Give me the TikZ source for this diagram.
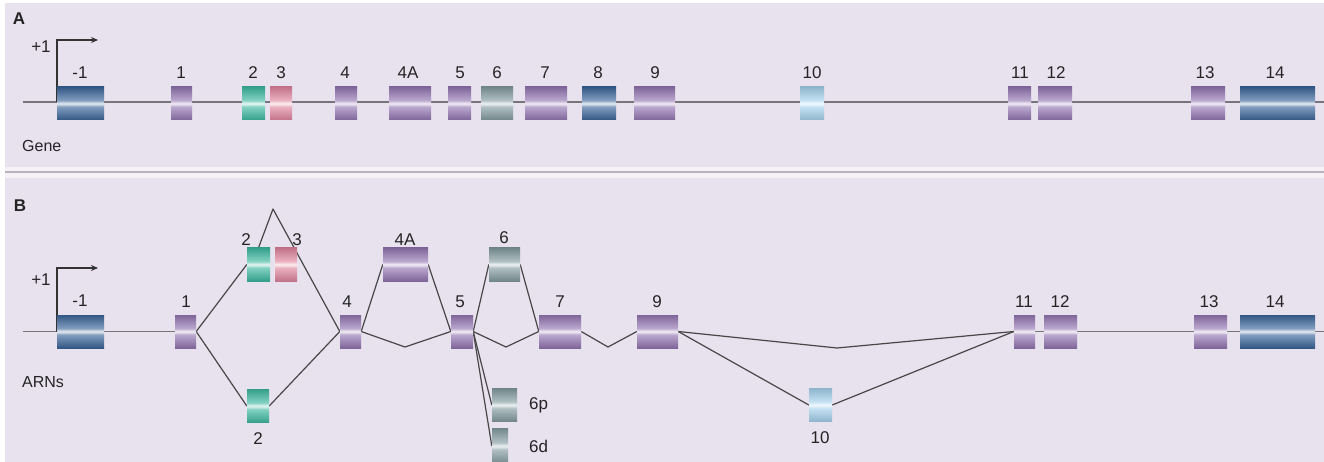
\documentclass[tikz,border=0pt]{standalone}
\usepackage{fontspec}
\setmainfont{Liberation Sans}
\usetikzlibrary{arrows.meta}
\definecolor{bgc}{HTML}{E8E1EE}
\definecolor{sepc}{HTML}{B9B2BF}
\definecolor{exblue}{HTML}{2D5A92}
\definecolor{expurple}{HTML}{8B6CAC}
\definecolor{exteal}{HTML}{30B39A}
\definecolor{expink}{HTML}{DD7C97}
\definecolor{exgray}{HTML}{7A949A}
\definecolor{exlblue}{HTML}{9ECDEB}
\definecolor{txt}{HTML}{242424}
\definecolor{genec}{HTML}{77747C}
\colorlet{exc}{expurple}
\pgfdeclareverticalshading[exc]{exonshade}{100bp}{%
  color(0bp)=(exc!85!black); color(22bp)=(exc!85!black); color(45bp)=(exc!60!white);
  color(50bp)=(exc!12!white); color(55bp)=(exc!60!white);
  color(78bp)=(exc!85!black); color(100bp)=(exc!85!black)}
\pgfdeclarelayer{back}
\pgfsetlayers{back,main}
\tikzset{
  exon/.style={rectangle, inner sep=0pt, minimum height=33pt, draw=none,
    /utils/exec={\colorlet{exc}{#1}}, shade, shading=exonshade},
  lbl/.style={text=txt, font=\fontsize{17}{20}\selectfont, inner sep=0pt},
  panel/.style={text=txt, font=\fontsize{17}{20}\selectfont\bfseries, inner sep=0pt},
  side/.style={text=txt, font=\fontsize{16}{19}\selectfont, inner sep=0pt, anchor=west},
  geneline/.style={draw=genec, line width=2pt},
  rnaline/.style={draw=genec, line width=1pt},
  splice/.style={draw=black!72, line width=1.2pt, line join=round},
  promoter/.style={draw=black!80, line width=1.3pt, -{Stealth[length=7pt,width=6pt]}}
}
\begin{document}
\begin{tikzpicture}[x=1pt,y=-1pt]
\useasboundingbox (0,0) rectangle (1324,462);
% ---------- Panel A ----------
\node[exon=exblue,   minimum width=47pt] (am1) at (80.5,103.5) {};
\node[exon=expurple, minimum width=21pt] (a1)  at (181.5,103.5) {};
\node[exon=exteal,   minimum width=23pt] (a2)  at (253.5,103.5) {};
\node[exon=expink,   minimum width=22pt] (a3)  at (281,103.5) {};
\node[exon=expurple, minimum width=22pt] (a4)  at (346,103.5) {};
\node[exon=expurple, minimum width=42pt] (a4A) at (410,103.5) {};
\node[exon=expurple, minimum width=23pt] (a5)  at (459.5,103.5) {};
\node[exon=exgray,   minimum width=32pt] (a6)  at (497,103.5) {};
\node[exon=expurple, minimum width=42pt] (a7)  at (546,103.5) {};
\node[exon=exblue,   minimum width=34pt] (a8)  at (599,103.5) {};
\node[exon=expurple, minimum width=41pt] (a9)  at (654.5,103.5) {};
\node[exon=exlblue,  minimum width=24pt] (a10) at (812,103.5) {};
\node[exon=expurple, minimum width=23pt] (a11) at (1019.5,103.5) {};
\node[exon=expurple, minimum width=34pt] (a12) at (1055,103.5) {};
\node[exon=expurple, minimum width=34pt] (a13) at (1208,103.5) {};
\node[exon=exblue,   minimum width=75pt] (a14) at (1277.5,103.5) {};
\node[lbl] (lam1) at (80,73) {-1};
\node[lbl] (la1)  at (181,73) {1};
\node[lbl] (la2)  at (253,73) {2};
\node[lbl] (la3)  at (281,73) {3};
\node[lbl] (la4)  at (345,73) {4};
\node[lbl] (la4A) at (408,73) {4A};
\node[lbl] (la5)  at (460,73) {5};
\node[lbl] (la6)  at (497,73) {6};
\node[lbl] (la7)  at (545,73) {7};
\node[lbl] (la8)  at (598,73) {8};
\node[lbl] (la9)  at (655,73) {9};
\node[lbl] (la10) at (812,73) {10};
\node[lbl] (la11) at (1020,73) {11};
\node[lbl] (la12) at (1056,73) {12};
\node[lbl] (la13) at (1205,73) {13};
\node[lbl] (la14) at (1275,73) {14};
\node[panel] (pA) at (19,19) {A};
\node[lbl] (plA) at (41,47) {+1};
\node[side] (gene) at (22,146) {Gene};
\coordinate (gs) at (23,102.5);
\coordinate (ge) at (1324,102.5);
\coordinate (tA0) at (57,102.5);
\coordinate (tA1) at (57,40);
\coordinate (tA2) at (98,40);
% ---------- Panel B ----------
\node[exon=exblue,   minimum width=47pt] (bm1) at (80.5,331.5) {};
\node[exon=expurple, minimum width=21pt] (b1)  at (185.5,331.5) {};
\node[exon=exteal,   minimum width=23pt] (b2u) at (258.5,264.5) {};
\node[exon=expink,   minimum width=22pt] (b3u) at (286,264.5) {};
\node[exon=exteal,   minimum width=22pt] (b2d) at (258,406) {};
\node[exon=expurple, minimum width=21pt] (b4)  at (350.5,331.5) {};
\node[exon=expurple, minimum width=45pt] (b4A) at (405.5,264.5) {};
\node[exon=expurple, minimum width=22pt] (b5)  at (462,331.5) {};
\node[exon=exgray,   minimum width=31pt] (b6)  at (504.5,264.5) {};
\node[exon=exgray,   minimum width=25pt] (b6p) at (504.5,405) {};
\node[exon=exgray,   minimum width=16pt, minimum height=36pt] (b6d) at (500,446) {};
\node[exon=expurple, minimum width=42pt] (b7)  at (560,331.5) {};
\node[exon=expurple, minimum width=41pt] (b9)  at (657.5,331.5) {};
\node[exon=exlblue,  minimum width=23pt] (b10) at (820.5,405) {};
\node[exon=expurple, minimum width=21pt] (b11) at (1024.5,331.5) {};
\node[exon=expurple, minimum width=33pt] (b12) at (1060.5,331.5) {};
\node[exon=expurple, minimum width=33pt] (b13) at (1210.5,331.5) {};
\node[exon=exblue,   minimum width=75pt] (b14) at (1277.5,331.5) {};
\node[lbl] (lbm1) at (80,301) {-1};
\node[lbl] (lb1)  at (186,302) {1};
\node[lbl] (lb2u) at (246,240) {2};
\node[lbl] (lb3u) at (297,240) {3};
\node[lbl] (lb2d) at (258,439) {2};
\node[lbl] (lb4)  at (347,302) {4};
\node[lbl] (lb4A) at (405,240) {4A};
\node[lbl] (lb5)  at (460,302) {5};
\node[lbl] (lb6)  at (504,238) {6};
\node[lbl] (lb7)  at (560,302) {7};
\node[lbl] (lb9)  at (657,302) {9};
\node[lbl] (lb10) at (820,438) {10};
\node[lbl] (lb11) at (1024,302) {11};
\node[lbl] (lb12) at (1060,302) {12};
\node[lbl] (lb13) at (1209,302) {13};
\node[lbl] (lb14) at (1275,302) {14};
\node[lbl, anchor=west] (lb6p) at (529,405) {6p};
\node[lbl, anchor=west] (lb6d) at (529,446) {6d};
\node[panel] (pB) at (20,206) {B};
\node[lbl] (plB) at (41,280) {+1};
\node[side] (arns) at (22,382) {ARNs};
\coordinate (bs) at (23,331.5);
\coordinate (be) at (1324,331.5);
\coordinate (tB0) at (57,331.5);
\coordinate (tB1) at (57,268);
\coordinate (tB2) at (98,268);
\coordinate (apex) at (273,209);
\coordinate (v45) at (405,347);
\coordinate (v57) at (506,347);
\coordinate (v79) at (608,347);
\coordinate (v911) at (837,348);
% ---------- background layer ----------
\begin{pgfonlayer}{back}
  \fill[white] (0,0) rectangle (1324,462);
  \fill[bgc] (5,3) rectangle (1324,462);
  \fill[white!55!bgc] (5,167) rectangle (1324,178);
  \draw[sepc, line width=2pt] (5,172) -- (1324,172);
  % panel A
  \draw[geneline] (gs) -- (ge);
  \draw[promoter] (tA0) -- (tA1) -- (tA2);
  % panel B
  \draw[rnaline] (bs) -- (b1.west);
  \draw[rnaline] (b11.east) -- (b12.west);
  \draw[rnaline] (b12.east) -- (be);
  \draw[promoter] (tB0) -- (tB1) -- (tB2);
  \draw[splice] (b1.east) -- (b2u.west);
  \draw[splice] (b1.east) -- (b2d.west);
  \draw[splice] (b2d.east) -- (b4.west);
  \draw[splice] (b2u.north) -- (apex) -- (b4.west);
  \draw[splice] (b4.east) -- (b4A.west);
  \draw[splice] (b4A.east) -- (b5.west);
  \draw[splice] (b4.east) -- (v45) -- (b5.west);
  \draw[splice] (b5.east) -- (b6.west);
  \draw[splice] (b6.east) -- (b7.west);
  \draw[splice] (b5.east) -- (v57) -- (b7.west);
  \draw[splice] (b5.east) -- (b6p.west);
  \draw[splice] (b5.east) -- (b6d.west);
  \draw[splice] (b7.east) -- (v79) -- (b9.west);
  \draw[splice] (b9.east) -- (v911) -- (b11.west);
  \draw[splice] (b9.east) -- (b10.west);
  \draw[splice] (b10.east) -- (b11.west);
\end{pgfonlayer}
\end{tikzpicture}
\end{document}
